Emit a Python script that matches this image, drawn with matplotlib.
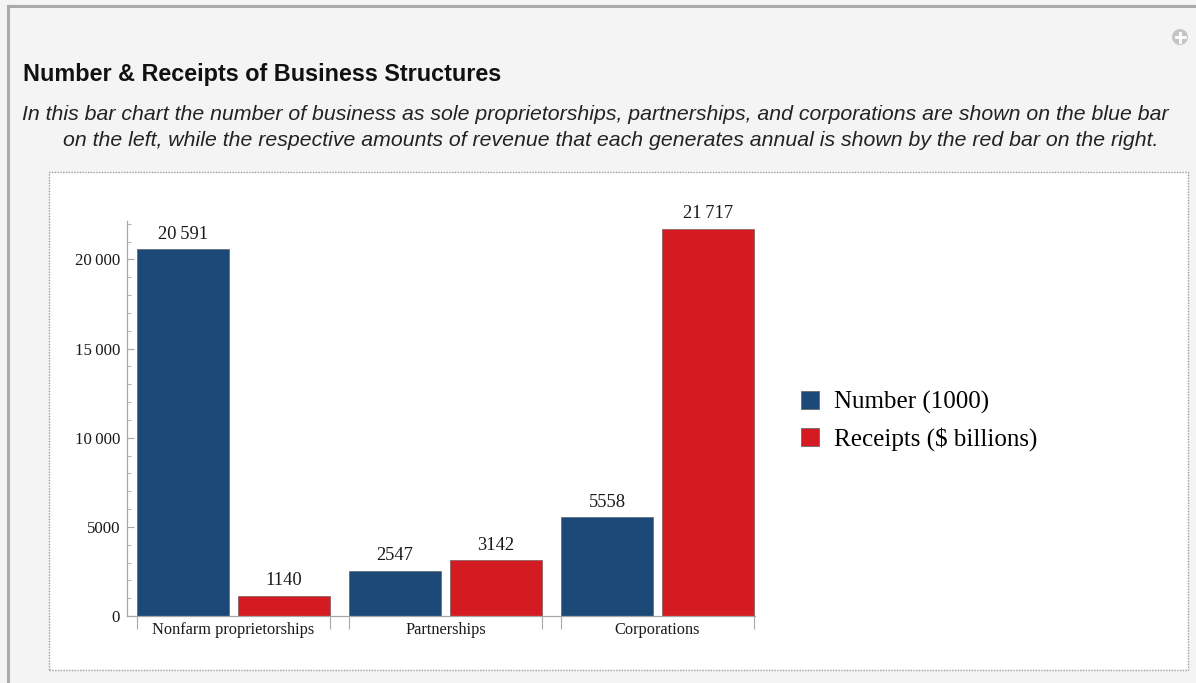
import matplotlib
matplotlib.use("Agg")
import matplotlib.pyplot as plt
from matplotlib.patches import Rectangle, Circle
from matplotlib.lines import Line2D
from matplotlib.ticker import FixedLocator, MultipleLocator

# ---- data ----
categories = ["Nonfarm proprietorships", "Partnerships", "Corporations"]
number_thousands = [20591, 2547, 5558]
receipts_billions = [1140, 3142, 21717]
series_names = ["Number (1000)", "Receipts ($ billions)"]
y_ticks = [0, 5000, 10000, 15000, 20000]

title = "Number & Receipts of Business Structures"
subtitle_lines = [
    "In this bar chart the number of business as sole proprietorships, partnerships, and corporations are shown on the blue bar",
    "on the left, while the respective amounts of revenue that each generates annual is shown by the red bar on the right.",
]

# ---- styling ----
W, H = 1196, 683
BG = "#f4f4f4"
BLUE = "#1c4977"
RED = "#d41b21"
AXIS_GRAY = "#a8a8a8"
SERIF = ["Liberation Serif", "DejaVu Serif"]
SANS = ["Liberation Sans", "DejaVu Sans"]


def fx(x):
    return x / W


def fy(y):
    return 1 - y / H


def fmt(v):
    s = f"{v:d}"
    if v >= 10000:
        s = f"{v:,}".replace(",", "\u2009")
    return s


fig = plt.figure(figsize=(W / 100, H / 100), dpi=100, facecolor=BG)
px = fig.dpi_scale_trans  # inches; 100 px per inch

# outer frame (left and top edges)
fig.add_artist(Line2D([fx(8), fx(8)], [0, fy(6)], color="#aaaaaa", lw=2.2,
                      transform=fig.transFigure, zorder=-10))
fig.add_artist(Line2D([fx(8), 1], [fy(6), fy(6)], color="#aaaaaa", lw=2.2,
                      transform=fig.transFigure, zorder=-10))

# expand icon
cx, cy = 1180 / 100, (H - 37) / 100
fig.add_artist(Circle((cx, cy), 0.08, transform=px,
                      facecolor="#c4c4c4", edgecolor="none"))
fig.add_artist(Line2D([cx - 0.045, cx + 0.045], [cy, cy],
                      color="white", lw=2.0, transform=px))
fig.add_artist(Line2D([cx, cx], [cy - 0.045, cy + 0.045],
                      color="white", lw=2.0, transform=px))

# heading
fig.text(fx(23), fy(81), title, fontsize=16.8, fontweight="bold",
         family=SANS, color="#111111", va="baseline", ha="left")
fig.text(fx(595.5), fy(120), subtitle_lines[0], fontsize=15.3, style="italic",
         family=SANS, color="#222222", va="baseline", ha="center")
fig.text(fx(610.5), fy(146), subtitle_lines[1], fontsize=15.3, style="italic",
         family=SANS, color="#222222", va="baseline", ha="center")

# white chart panel with dotted border
fig.add_artist(Rectangle((fx(49), fy(670)), (1188 - 49) / W, (670 - 172) / H,
                         transform=fig.transFigure, facecolor="white",
                         edgecolor="#9a9a9a", lw=1.0, linestyle=(0, (1, 1)),
                         zorder=-5))

# ---- bar chart ----
ax = fig.add_axes([fx(127), fy(616), (755 - 127) / W, (616 - 221) / H])
ax.set_facecolor("none")

bar_w = 1.0
inner_gap = 0.098
group_gap = 0.207
group_span = 2 * bar_w + inner_gap
group_step = group_span + group_gap
starts = [i * group_step for i in range(len(categories))]

blue_x = [s + bar_w / 2 for s in starts]
red_x = [s + bar_w + inner_gap + bar_w / 2 for s in starts]

ax.bar(blue_x, number_thousands, width=bar_w, color=BLUE,
       edgecolor="#5a6470", linewidth=0.5)
ax.bar(red_x, receipts_billions, width=bar_w, color=RED,
       edgecolor="#7a5a5a", linewidth=0.5)

for xs, vals in ((blue_x, number_thousands), (red_x, receipts_billions)):
    for x, v in zip(xs, vals):
        ax.annotate(fmt(v), (x, v), xytext=(0, 4.5), textcoords="offset points",
                    ha="center", va="bottom", fontsize=13.3, family=SERIF,
                    color="#1a1a1a")

ax.set_xlim(starts[0] - 10 / 92, starts[-1] + group_span + 0.01)
ax.set_ylim(0, 22150)

for side in ("top", "right"):
    ax.spines[side].set_visible(False)
for side in ("left", "bottom"):
    ax.spines[side].set_color(AXIS_GRAY)
    ax.spines[side].set_linewidth(0.9)

# y axis: inward ticks, thin-space thousands
ax.yaxis.set_major_locator(FixedLocator(y_ticks))
ax.yaxis.set_minor_locator(MultipleLocator(1000))
ax.set_yticklabels([fmt(v) for v in y_ticks])
ax.tick_params(axis="y", which="major", direction="in", length=5, width=0.8,
               color=AXIS_GRAY, pad=5, labelsize=12.2, labelcolor="#1a1a1a")
ax.tick_params(axis="y", which="minor", direction="in", length=3, width=0.6,
               color=AXIS_GRAY)
for lab in ax.get_yticklabels():
    lab.set_family(SERIF)

# x axis: group boundary ticks, category names centred under each group
edges = []
for s in starts:
    edges += [s, s + group_span]
ax.xaxis.set_major_locator(FixedLocator(edges))
ax.xaxis.set_minor_locator(FixedLocator([s + group_span / 2 for s in starts]))
ax.set_xticklabels([""] * len(edges))
ax.set_xticklabels(categories, minor=True)
ax.tick_params(axis="x", which="major", direction="out", length=9, width=0.8,
               color=AXIS_GRAY)
ax.tick_params(axis="x", which="minor", length=0, pad=4, labelsize=11.8,
               labelcolor="#1a1a1a")
for lab in ax.get_xticklabels(minor=True):
    lab.set_family(SERIF)

# legend
handles = [
    Line2D([], [], marker="s", ls="", markersize=12.5, markerfacecolor=BLUE,
           markeredgecolor="#6a6a6a", markeredgewidth=0.6),
    Line2D([], [], marker="s", ls="", markersize=12.5, markerfacecolor=RED,
           markeredgecolor="#6a6a6a", markeredgewidth=0.6),
]
fig.legend(handles, series_names, loc="center left",
           bbox_to_anchor=(fx(786), fy(421)), frameon=False,
           prop={"family": SERIF, "size": 18}, handlelength=0.9,
           handletextpad=0.5, labelspacing=0.55, borderpad=0)

fig.savefig("out.png", dpi=100, facecolor=BG)
